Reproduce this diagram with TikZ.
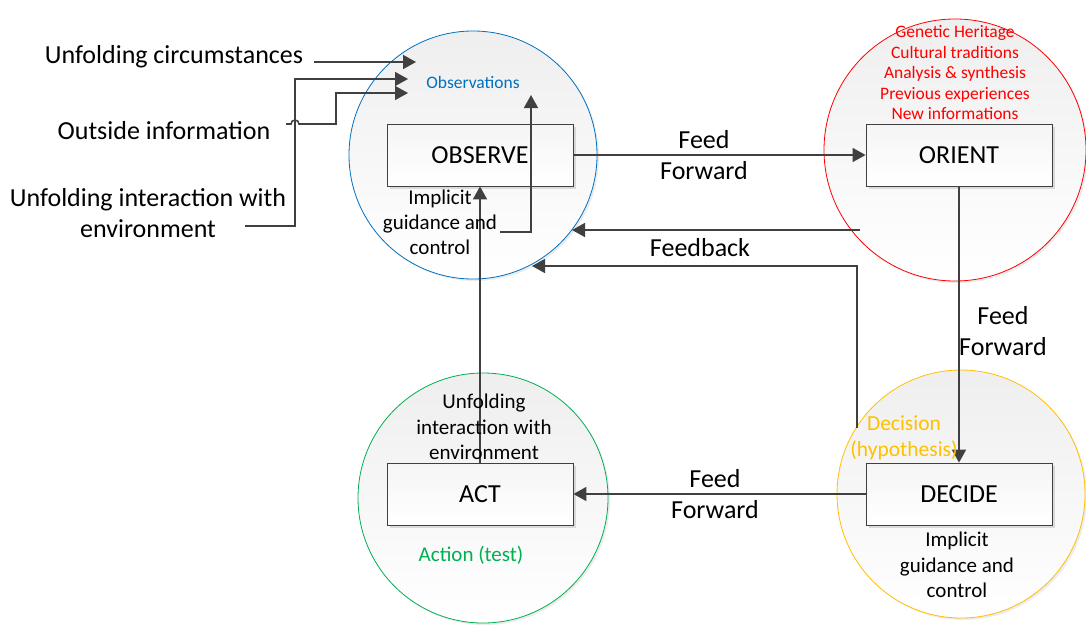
\documentclass[tikz,border=0pt]{standalone}
\usepackage{fontspec}
\setmainfont{Carlito}
\usetikzlibrary{arrows.meta,shadows}
\definecolor{obsblue}{HTML}{0070C0}
\definecolor{orired}{HTML}{FF0000}
\definecolor{decorange}{HTML}{FFC000}
\definecolor{actgreen}{HTML}{00B050}
\definecolor{linegray}{HTML}{404040}
\tikzset{
    phase/.style={circle,draw,line width=0.8pt,minimum size=248pt,inner sep=0pt,
        top color=gray!13,bottom color=white,
        drop shadow={opacity=0.15,shadow xshift=2pt,shadow yshift=-2pt}},
    stepbox/.style={draw=linegray,line width=0.8pt,minimum width=186pt,minimum height=62pt,
        top color=gray!8,bottom color=white,font=\fontsize{26}{31}\selectfont,
        drop shadow={opacity=0.25,shadow xshift=3pt,shadow yshift=-3pt}},
    flow/.style={draw=linegray,line width=1.6pt,-{Triangle[length=13pt,width=14pt]}},
    biglbl/.style={font=\fontsize{26}{31}\selectfont,align=center},
    note/.style={font=\fontsize{21}{25}\selectfont,align=center},
    small/.style={font=\fontsize{17.5}{20.5}\selectfont,align=center},
}
\begin{document}
\begin{tikzpicture}[x=1pt,y=-1pt]
    \useasboundingbox (0,0) rectangle (1086,624);
    % cac vong tron
    \node[phase,draw=obsblue] (obsC) at (473,155) {};
    \node[phase,draw=orired,minimum size=262pt] (oriC) at (955,150) {};
    \node[phase,draw=decorange] (decC) at (961,494) {};
    \node[phase,draw=actgreen,minimum size=250pt] (actC) at (483,498) {};
    % cac hop
    \foreach \n/\x/\y/\t in {obs/480/155/OBSERVE,ori/959/155/ORIENT,dec/959/494/DECIDE,act/480/494/ACT}
        \node[stepbox] (\n) at (\x,\y) {\t};
    \foreach \a/\b in {obs/ori,ori/dec,dec/act,act/obs} \draw[flow] (\a)--(\b);
    % nhan
    \path
    foreach \n/\x/\y/\t in {ff1/704/155/{Feed\\Forward},ff2/1003/331/{Feed\\Forward},ff3/715/494/{Feed\\Forward},fb/700/248/Feedback}
        {(\x,\y) node[biglbl] (\n) {\t}};
    \node[biglbl] (circ) at (174,57) {Unfolding circumstances};
    \node[biglbl] (info) at (164,131) {Outside information};
    \node[biglbl] (inter) at (148,213) {Unfolding interaction with\\environment};
    \node[small,text=obsblue] (obsT) at (473,82) {Observations};
    \node[small,text=orired] (oriT) at (955,73) {Genetic Heritage\\Cultural traditions\\Analysis \& synthesis\\Previous experiences\\New informations};
    \node[note,text=decorange,font=\fontsize{21.5}{26}\selectfont] (decT) at (904,438) {Decision\\(hypothesis)};
    \node[note,text=actgreen] (actT) at (471,555) {Action (test)};
    \node[note] (obsI) at (440,222) {Implicit\\guidance and\\control};
    \node[note,font=\fontsize{21}{25.5}\selectfont] (decI) at (957,565) {Implicit\\guidance and\\control};
    \node[note,font=\fontsize{21}{25.5}\selectfont] (actI) at (484,427) {Unfolding\\interaction with\\environment};
    % feedback
    \coordinate (fbA) at (860,230);
    \coordinate (fbB) at (572,230);
    \coordinate (fb2A) at (857,428);
    \coordinate (fb2B) at (532,266);
    \coordinate (igA) at (500,232);
    \coordinate (igB) at (531,95);
    \draw[flow] (fbA)--(fbB);
    \draw[flow] (fb2A) |- (fb2B);
    \draw[flow] (igA) -| (igB);
    % dau vao
    \coordinate (inA) at (416,62);
    \coordinate (inB) at (408,79);
    \coordinate (inC) at (408,93);
    \coordinate (inD) at (245,226);
    \coordinate (inE) at (286,124);
    \draw[flow] (314,62)--(inA);
    \draw[flow] (inD) -| (295,79) -- (inB);
    \draw[flow] (inE) -- (291,124) arc[start angle=180,end angle=360,radius=4] -- (336,124) -- (336,93) -- (inC);
\end{tikzpicture}
\end{document}
